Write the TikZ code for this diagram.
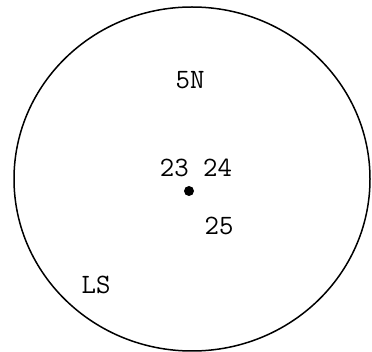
\documentclass[tikz,border=0pt]{standalone}
\usepackage{fontspec}
\begin{document}
\begin{tikzpicture}[x=1pt,y=-1pt,
  lbl/.style={inner sep=0pt, font=\ttfamily\fontsize{28}{28}\selectfont}]
\useasboundingbox (0,0) rectangle (372,352);
\draw[line width=1.5pt] (192,179) ellipse [x radius=178, y radius=172];
\node[lbl] (n5N) at (190,80) {5N};
\node[lbl] (n2324) at (196,167.5) {23 24};
\node[lbl] (n25) at (219,225.5) {25};
\node[lbl] (nLS) at (96,284.5) {LS};
\fill (189,191) circle [radius=5] coordinate (dot);
\end{tikzpicture}
\end{document}
